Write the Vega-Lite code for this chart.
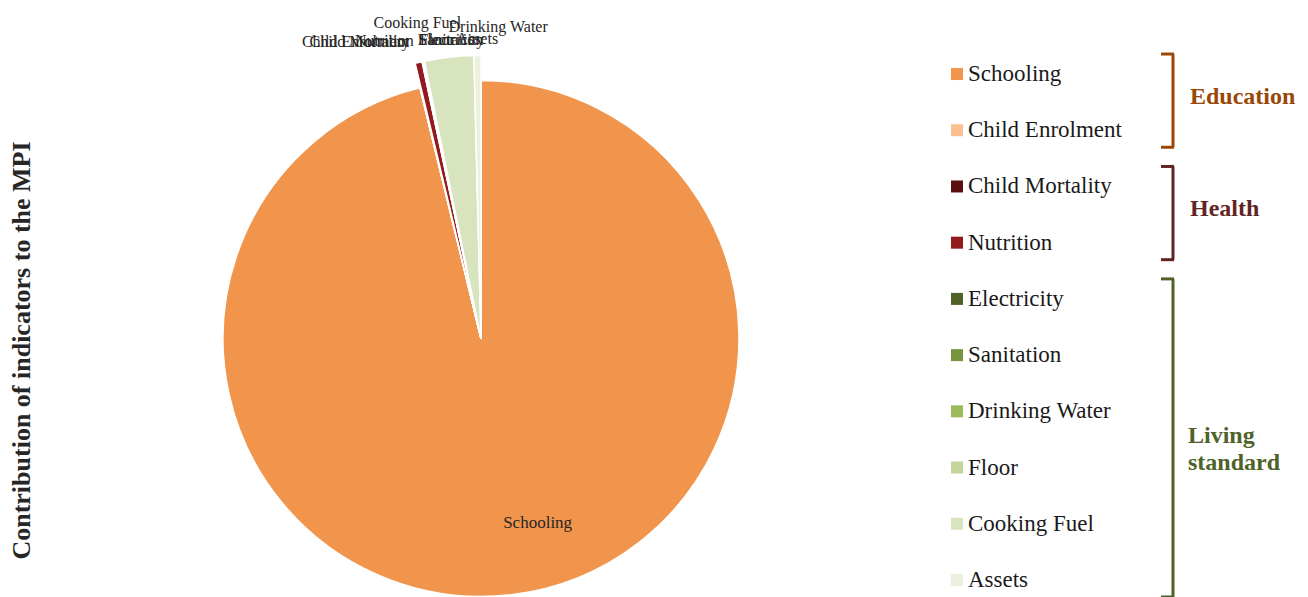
{
  "$schema": "https://vega.github.io/schema/vega-lite/v6.json",
  "padding": {"left": 8, "top": 0, "right": 0, "bottom": 0},
  "background": "white",
  "config": {"view": {"stroke": null}, "font": "Liberation Serif", "concat": {"spacing": 40}},
  "datasets": {
    "ind": [
      {"indicator": "Schooling", "rank": 1, "value": 96.2},
      {"indicator": "Child Enrolment", "rank": 2, "value": 0.02},
      {"indicator": "Child Mortality", "rank": 3, "value": 0.04},
      {"indicator": "Nutrition", "rank": 4, "value": 0.4},
      {"indicator": "Electricity", "rank": 5, "value": 0.02},
      {"indicator": "Sanitation", "rank": 6, "value": 0.05},
      {"indicator": "Drinking Water", "rank": 7, "value": 0.04},
      {"indicator": "Floor", "rank": 8, "value": 0.03},
      {"indicator": "Cooking Fuel", "rank": 9, "value": 2.8},
      {"indicator": "Assets", "rank": 10, "value": 0.4}
    ],
    "groups": [
      {"group": "Education", "first": "Schooling", "last": "Child Enrolment"},
      {"group": "Health", "first": "Child Mortality", "last": "Nutrition"},
      {"group": "Living\nstandard", "first": "Electricity", "last": "Assets"}
    ]
  },
  "hconcat": [
    {
      "width": 840,
      "height": 597,
      "title": {"text": "Contribution of indicators to the MPI", "orient": "left", "anchor": "middle", "fontSize": 26, "fontWeight": "bold", "color": "#262626", "font": "Liberation Serif", "offset": 26, "dx": -52},
      "data": {"name": "ind"},
      "encoding": {
        "theta": {"field": "value", "type": "quantitative", "stack": true},
        "order": {"field": "rank", "type": "quantitative"},
        "color": {
          "field": "indicator", "type": "nominal",
          "scale": {
            "domain": ["Schooling", "Child Enrolment", "Child Mortality", "Nutrition", "Electricity", "Sanitation", "Drinking Water", "Floor", "Cooking Fuel", "Assets"],
            "range": ["#F1954D", "#FAC090", "#5A1010", "#921A1D", "#4F6228", "#77933C", "#9BBB59", "#C3D69B", "#D7E4BD", "#EBF1DE"]
          },
          "legend": null
        }
      },
      "layer": [
        {
          "mark": {"type": "arc", "radius": 258, "stroke": "white", "strokeWidth": 1.5, "yOffset": 40}
        },
        {
          "mark": {"type": "arc", "radius": 283, "stroke": "white", "strokeWidth": 1.5, "yOffset": 40},
          "encoding": {
            "opacity": {"condition": {"test": "datum.indicator === 'Schooling'", "value": 0}, "value": 1}
          }
        },
        {
          "mark": {"type": "text", "radius": 186, "align": "left", "baseline": "middle", "fontSize": 17, "yOffset": 40},
          "encoding": {
            "text": {"condition": {"test": "datum.indicator !== 'Schooling'", "value": ""}, "field": "indicator"},
            "color": {"value": "#262626"}
          }
        },
        {
          "mark": {"type": "text", "radius": 318, "align": "right", "baseline": "middle", "fontSize": 16, "yOffset": 40, "dx": 16},
          "encoding": {
            "text": {"condition": {"test": "datum.indicator !== 'Cooking Fuel'", "value": ""}, "field": "indicator"},
            "color": {"value": "#262626"}
          }
        },
        {
          "mark": {"type": "text", "radius": 318, "align": "left", "baseline": "middle", "fontSize": 16, "yOffset": 40, "dx": 32},
          "encoding": {
            "text": {"condition": {"test": "datum.indicator !== 'Drinking Water'", "value": ""}, "field": "indicator"},
            "color": {"value": "#262626"}
          }
        },
        {
          "mark": {"type": "text", "radius": 305, "align": "right", "baseline": "middle", "fontSize": 16, "yOffset": 40},
          "encoding": {
            "text": {"condition": {"test": "indexof(['Child Enrolment','Child Mortality','Nutrition'], datum.indicator) < 0", "value": ""}, "field": "indicator"},
            "color": {"value": "#262626"}
          }
        },
        {
          "mark": {"type": "text", "radius": 305, "align": "left", "baseline": "middle", "fontSize": 16, "yOffset": 40},
          "encoding": {
            "text": {"condition": {"test": "indexof(['Electricity','Sanitation','Floor'], datum.indicator) < 0", "value": ""}, "field": "indicator"},
            "color": {"value": "#262626"}
          }
        },
        {
          "mark": {"type": "text", "radius": 300, "align": "center", "baseline": "middle", "fontSize": 16, "yOffset": 40},
          "encoding": {
            "text": {"condition": {"test": "datum.indicator !== 'Assets'", "value": ""}, "field": "indicator"},
            "color": {"value": "#262626"}
          }
        }
      ]
    },
    {
      "width": 360,
      "height": 597,
      "layer": [
        {
          "data": {"name": "ind"},
          "mark": {"type": "square", "size": 144, "filled": true, "opacity": 1},
          "encoding": {
            "y": {"field": "indicator", "type": "nominal", "axis": null,
              "scale": {"type": "point", "domain": ["Schooling", "Child Enrolment", "Child Mortality", "Nutrition", "Electricity", "Sanitation", "Drinking Water", "Floor", "Cooking Fuel", "Assets"], "padding": 0.81, "align": 0.813}},
            "x": {"value": 16},
            "color": {
              "field": "indicator", "type": "nominal",
              "scale": {
                "domain": ["Schooling", "Child Enrolment", "Child Mortality", "Nutrition", "Electricity", "Sanitation", "Drinking Water", "Floor", "Cooking Fuel", "Assets"],
                "range": ["#F1954D", "#FAC090", "#5A1010", "#921A1D", "#4F6228", "#77933C", "#9BBB59", "#C3D69B", "#D7E4BD", "#EBF1DE"]
              },
              "legend": null
            }
          }
        },
        {
          "data": {"name": "ind"},
          "mark": {"type": "text", "align": "left", "baseline": "middle", "fontSize": 23, "color": "#1a1a1a"},
          "encoding": {
            "y": {"field": "indicator", "type": "nominal"},
            "x": {"value": 27},
            "text": {"field": "indicator"}
          }
        },
        {
          "data": {"name": "groups"},
          "mark": {"type": "rule", "strokeWidth": 3, "yOffset": -20, "y2Offset": 17},
          "encoding": {
            "y": {"field": "first", "type": "nominal"},
            "y2": {"field": "last"},
            "x": {"value": 232},
            "stroke": {"field": "group", "type": "nominal", "scale": {"domain": ["Education", "Health", "Living\nstandard"], "range": ["#984807", "#632523", "#4F6228"]}, "legend": null}
          }
        },
        {
          "data": {"name": "groups"},
          "mark": {"type": "rule", "strokeWidth": 3, "yOffset": -20},
          "encoding": {
            "y": {"field": "first", "type": "nominal"},
            "x": {"value": 220},
            "x2": {"value": 233},
            "stroke": {"field": "group", "type": "nominal", "legend": null}
          }
        },
        {
          "data": {"name": "groups"},
          "mark": {"type": "rule", "strokeWidth": 3, "yOffset": 17},
          "encoding": {
            "y": {"field": "last", "type": "nominal"},
            "x": {"value": 220},
            "x2": {"value": 233},
            "stroke": {"field": "group", "type": "nominal", "legend": null}
          }
        },
        {
          "data": {"name": "groups"},
          "transform": [{"filter": "datum.first !== 'Electricity'"}],
          "mark": {"type": "text", "align": "left", "baseline": "middle", "fontSize": 24, "fontWeight": "bold", "dy": 23},
          "encoding": {
            "y": {"field": "first", "type": "nominal"},
            "x": {"value": 249},
            "text": {"field": "group"},
            "fill": {"field": "group", "type": "nominal", "scale": {"domain": ["Education", "Health", "Living\nstandard"], "range": ["#984807", "#632523", "#4F6228"]}, "legend": null}
          }
        },
        {
          "data": {"name": "groups"},
          "transform": [{"filter": "datum.first === 'Electricity'"}],
          "mark": {"type": "text", "align": "left", "baseline": "middle", "fontSize": 24, "fontWeight": "bold", "dy": 137, "lineBreak": "\n", "lineHeight": 27},
          "encoding": {
            "y": {"field": "first", "type": "nominal"},
            "x": {"value": 247},
            "text": {"field": "group"},
            "fill": {"field": "group", "type": "nominal", "legend": null}
          }
        }
      ],
      "resolve": {"scale": {"color": "independent"}}
    }
  ]
}
